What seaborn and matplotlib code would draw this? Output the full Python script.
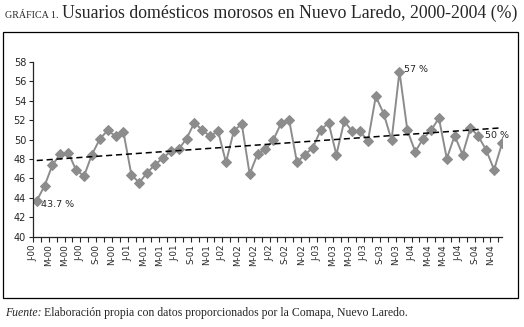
import numpy as np
import pandas as pd
import matplotlib
matplotlib.use("Agg")
import matplotlib.pyplot as plt
import seaborn as sns
from matplotlib.patches import Rectangle

# monthly share of delinquent domestic users, Jan 2000 - Dec 2004 (%)
months = ["J", "F", "M", "A", "M", "J", "J", "A", "S", "O", "N", "D"]
years = ["00", "01", "02", "03", "04"]
morosos = [
    43.7, 45.25, 47.4, 48.5, 48.65, 46.85, 46.25, 48.45, 50.05, 50.95, 50.35, 50.75,
    46.4, 45.55, 46.6, 47.4, 48.1, 48.8, 49.0, 50.1, 51.75, 50.95, 50.35, 50.85,
    47.65, 50.9, 51.6, 46.45, 48.5, 49.0, 49.95, 51.7, 52.05, 47.65, 48.45, 49.15,
    50.95, 51.75, 48.45, 51.9, 50.85, 50.85, 49.85, 54.45, 52.65, 49.95, 57.0, 50.95,
    48.75, 50.1, 50.95, 52.2, 48.05, 50.4, 48.45, 51.2, 50.35, 48.9, 46.9, 49.6,
]
labels = [f"{m}-{y}" for y in years for m in months]

df = pd.DataFrame({"idx": np.arange(len(morosos)), "valor": morosos})
trend = np.polyval(np.polyfit(df["idx"], df["valor"], 1), df["idx"])

sns.set_style("ticks")
fig = plt.figure(figsize=(5.24, 3.27), dpi=100)
ax = fig.add_axes([0.063, 0.276, 0.895, 0.535])

sns.lineplot(data=df, x="idx", y="valor", ax=ax, color="#8c8c8c", lw=1.4,
             marker="D", markersize=5, markeredgecolor="#8c8c8c")
ax.plot(df["idx"], trend, color="black", lw=1.1, ls=(0, (4, 2.5)))

ax.set_xlim(-0.47, 59.0)
ax.set_ylim(40, 58)
ax.set_yticks(np.arange(40, 59, 2))
ax.set_xticks(np.arange(60) - 0.47, minor=True)
ax.set_xticks(np.arange(0, 60, 2) - 0.47)
ax.set_xticklabels(labels[::2], rotation=90, fontsize=6.3)
ax.tick_params(axis="y", labelsize=7, length=3, width=0.8, pad=2)
ax.tick_params(axis="x", which="both", length=3.5, width=0.8, pad=2)
ax.set_xlabel("")
ax.set_ylabel("")
for s in ["top", "right"]:
    ax.spines[s].set_visible(False)
for s in ["left", "bottom"]:
    ax.spines[s].set_linewidth(0.9)

ax.text(0.55, 43.35, "43.7 %", fontsize=6.8, va="center", ha="left")
ax.text(46.6, 57.2, "57 %", fontsize=6.8, va="center", ha="left")
ax.text(56.9, 50.4, "50 %", fontsize=6.8, va="center", ha="left", clip_on=False)

# frame around the chart
fig.patches.append(Rectangle((3 / 524, 1 - 298 / 327), 515 / 524, 266 / 327,
                             transform=fig.transFigure, fill=False,
                             edgecolor="black", lw=0.9))

fig.canvas.draw()
rend = fig.canvas.get_renderer()

# title: small-caps label followed by the main text
lab = fig.text(5 / 524, 1 - 18 / 327, "GRÁFICA 1.", fontsize=7.2,
               family="Liberation Serif", va="baseline", ha="left")
bb = lab.get_window_extent(rend)
fig.text(bb.x1 / fig.bbox.width + 3 / 524, 1 - 18 / 327,
         "Usuarios domésticos morosos en Nuevo Laredo, 2000-2004 (%)",
         fontsize=12.75, family="Liberation Serif", va="baseline", ha="left")

src = fig.text(5 / 524, 1 - 316 / 327, "Fuente:", fontsize=8.5,
               family="Liberation Serif", style="italic", va="baseline", ha="left")
bb = src.get_window_extent(rend)
fig.text(bb.x1 / fig.bbox.width + 3 / 524, 1 - 316 / 327,
         "Elaboración propia con datos proporcionados por la Comapa, Nuevo Laredo.",
         fontsize=8.5, family="Liberation Serif", va="baseline", ha="left")

fig.savefig("out.png", dpi=100)
